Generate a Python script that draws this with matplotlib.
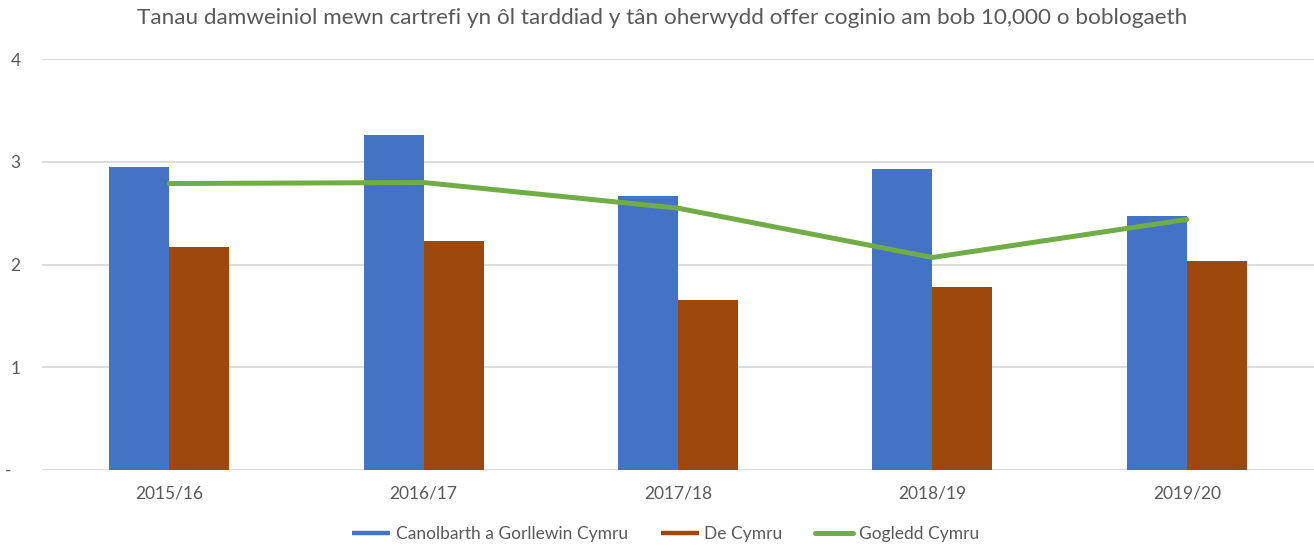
import matplotlib
matplotlib.use("Agg")
import matplotlib.pyplot as plt
from matplotlib.lines import Line2D
import numpy as np

plt.rcParams["font.family"] = ["Lato", "DejaVu Sans"]

years = ["2015/16", "2016/17", "2017/18", "2018/19", "2019/20"]
canolbarth = [2.95, 3.26, 2.67, 2.93, 2.47]
de_cymru = [2.17, 2.23, 1.66, 1.78, 2.04]
gogledd = [2.79, 2.80, 2.55, 2.07, 2.44]
yticks = [0, 1, 2, 3, 4]
ylabels = ["-  ", "1", "2", "3", "4"]

title = ("Tanau damweiniol mewn cartrefi yn ôl tarddiad y tân oherwydd "
         "offer coginio am bob 10,000 o boblogaeth")
names = ["Canolbarth a Gorllewin Cymru", "De Cymru", "Gogledd Cymru"]

blue = "#4472C4"
rust = "#9E480E"
green = "#70AD47"
grey = "#595959"

W, H = 1314, 546
fig = plt.figure(figsize=(W / 100, H / 100), dpi=100)
ax = fig.add_axes([42 / W, 1 - 470 / H, 1 - 42 / W, (470 - 59.3) / H])

x = np.arange(len(years))
bw = 0.236
ax.bar(x - bw / 2, canolbarth, bw, color=blue, zorder=2)
ax.bar(x + bw / 2, de_cymru, bw, color=rust, zorder=2)
ax.plot(x, gogledd, color=green, lw=3.6, solid_joinstyle="round",
        solid_capstyle="round", zorder=3)

ax.set_xlim(-0.5, len(years) - 0.5)
ax.set_ylim(0, 4)
ax.set_yticks(yticks)
ax.set_yticklabels(ylabels)
ax.set_xticks(x)
ax.set_xticklabels(years)
ax.tick_params(axis="both", length=0, colors=grey, labelsize=12.5)
ax.tick_params(axis="y", pad=15.5)
ax.tick_params(axis="x", pad=11)
for sp in ax.spines.values():
    sp.set_visible(False)
ax.yaxis.grid(True, color="#D9D9D9", lw=1.3, zorder=0)
ax.set_axisbelow(True)

fig.text(0.504, 1 - 18 / H, title, ha="center", va="center",
         fontsize=16.2, color=grey)

handles = [Line2D([], [], color=blue, lw=3.2, solid_capstyle="butt"),
           Line2D([], [], color=rust, lw=3.2, solid_capstyle="butt"),
           Line2D([], [], color=green, lw=3.6, solid_capstyle="round")]
leg = fig.legend(handles, names, loc="center", ncol=3, frameon=False,
                 bbox_to_anchor=(0.5065, 0.022), fontsize=12.5,
                 handlelength=2.2, handletextpad=0.3, columnspacing=1.9)
for t in leg.get_texts():
    t.set_color(grey)

fig.savefig("out.png", dpi=100)
